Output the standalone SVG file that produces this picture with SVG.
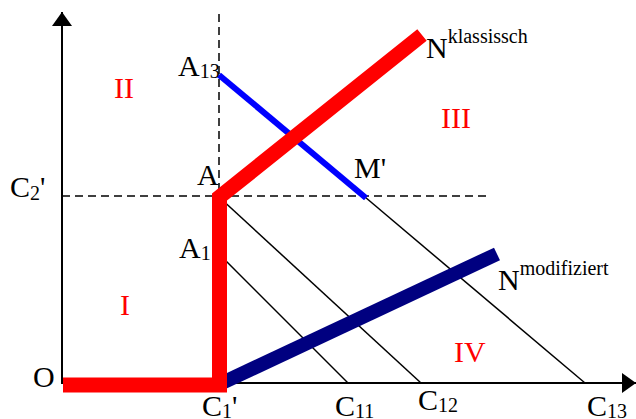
<svg xmlns="http://www.w3.org/2000/svg" width="636" height="419" viewBox="0 0 636 419">
<style>
.t{font-family:"Liberation Serif","Times New Roman",serif;font-size:30px;fill:#000}
.s{font-family:"Liberation Serif","Times New Roman",serif;font-size:20px}
.r{fill:#ff0000}
.dash{stroke:#000;stroke-width:1.5;stroke-dasharray:8 5;fill:none}
.thin{stroke:#000;stroke-width:1.5;fill:none}
</style>
<defs>
<marker id="ah" markerWidth="14" markerHeight="20" refX="14" refY="10" orient="auto" markerUnits="userSpaceOnUse">
<path d="M0,0 L14,10 L0,20 Z" fill="#000"/>
</marker>
</defs>
<rect width="636" height="419" fill="#fff"/>
<g id="connectors">
<line class="dash" x1="219" y1="14" x2="219" y2="196"/>
<line class="dash" x1="62" y1="196" x2="488" y2="196"/>
<line x1="62" y1="384" x2="62" y2="12" stroke="#000" stroke-width="2" marker-end="url(#ah)"/>
<line x1="62" y1="383" x2="636" y2="383" stroke="#000" stroke-width="2" marker-end="url(#ah)"/>
<line class="thin" x1="219" y1="254" x2="348" y2="383"/>
<line class="thin" x1="219" y1="197" x2="421" y2="383"/>
<line class="thin" x1="365" y1="197" x2="585" y2="383"/>
<line x1="219" y1="75" x2="366" y2="198" stroke="#0000ff" stroke-width="6"/>
<line x1="222" y1="383" x2="497" y2="254" stroke="#000080" stroke-width="14"/>
<polyline points="63,385 219.5,385 219.5,197 422,35" fill="none" stroke="#ff0000" stroke-width="15" stroke-linejoin="miter"/>
</g>
<g id="label-A13"><text class="t" x="178" y="76">A<tspan class="s" dy="2">13</tspan></text></g>
<g id="label-II"><text class="t r" x="114" y="98">II</text></g>
<g id="label-C2"><text class="t" x="10" y="197">C<tspan class="s" dy="3">2</tspan><tspan dy="-3">'</tspan></text></g>
<g id="label-A"><text class="t" x="197" y="185">A</text></g>
<g id="label-Nk"><text class="t" x="426" y="58">N<tspan class="s" dy="-15">klassissch</tspan></text></g>
<g id="label-III"><text class="t r" x="441" y="128">III</text></g>
<g id="label-M"><text class="t" x="354" y="178">M'</text></g>
<g id="label-A1"><text class="t" x="179" y="258">A<tspan class="s" dy="2">1</tspan></text></g>
<g id="label-I"><text class="t r" x="120" y="315">I</text></g>
<g id="label-O"><text class="t" x="33" y="387">O</text></g>
<g id="label-Nm"><text class="t" x="498" y="290">N<tspan class="s" dy="-15">modifiziert</tspan></text></g>
<g id="label-IV"><text class="t r" x="454" y="362">IV</text></g>
<g id="label-C1"><text class="t" x="202" y="416">C<tspan class="s" dy="2">1</tspan><tspan dy="-2">'</tspan></text></g>
<g id="label-C11"><text class="t" x="335" y="416">C<tspan class="s" dy="2">11</tspan></text></g>
<g id="label-C12"><text class="t" x="418" y="410">C<tspan class="s" dy="2">12</tspan></text></g>
<g id="label-C13"><text class="t" x="587" y="416">C<tspan class="s" dy="2">13</tspan></text></g>
</svg>
